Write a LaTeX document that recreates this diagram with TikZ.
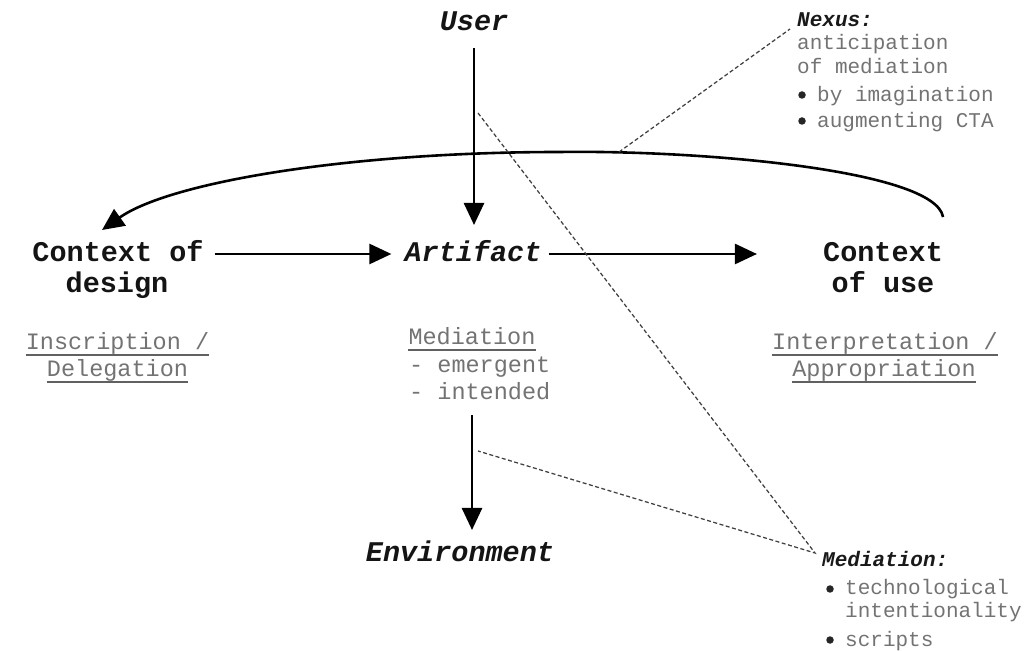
\documentclass[tikz,border=0pt]{standalone}
\usepackage{fontspec}
\setmonofont{Liberation Mono}
\usetikzlibrary{arrows.meta,calc}

\begin{document}
\begin{tikzpicture}[x=1pt,y=1pt,
  title/.style={font=\ttfamily\bfseries\fontsize{28.5}{30}\selectfont, text=black!92, inner sep=0pt, anchor=base},
  ititle/.style={title, font=\ttfamily\bfseries\itshape\fontsize{28.5}{30}\selectfont},
  sub/.style={font=\ttfamily\fontsize{23.5}{25}\selectfont, text=black!55, inner sep=0pt, anchor=base},
  note/.style={font=\ttfamily\fontsize{21}{23}\selectfont, text=black!55, inner sep=0pt, anchor=base west},
  notehead/.style={note, font=\ttfamily\bfseries\itshape\fontsize{21}{23}\selectfont, text=black!90},
  bullet/.style={circle, fill=black!85, inner sep=0pt, minimum size=7.5pt},
  uline/.style={draw=black!62, line width=1.8pt},
  flow/.style={line width=2.6pt, -{Triangle[length=22pt,width=20pt]}},
  hint/.style={draw=black!75, line width=1.25pt, dash pattern=on 4pt off 2.5pt}]

\useasboundingbox (0,0) rectangle (1035,650);

% main actors
\node[ititle] (user) at (474,619) {User};
\node[ititle] (artifact) at (473,388) {Artifact};
\node[title] (design1) at (118,388) {Context of};
\node[title] (design2) at (117,357) {design};
\node[title] (use1) at (883,388) {Context};
\node[title] (use2) at (883,357) {of use};
\node[ititle] (env) at (460,88) {Environment};

% underlined captions
\node[sub] (insc1) at (117.5,300) {Inscription /};
\node[sub] (insc2) at (117.5,273) {Delegation};
\node[sub] (interp1) at (885,300) {Interpretation /};
\node[sub] (interp2) at (884,273) {Appropriation};
\node[sub] (med) at (472,305) {Mediation};
\node[sub, anchor=base west] (emerg) at (409,277) {- emergent};
\node[sub, anchor=base west] (intend) at (409,250) {- intended};
\foreach \n in {insc1,insc2,interp1,interp2,med}
  \draw[uline] ($(\n.base west)+(0,-5)$) -- ($(\n.base east)+(0,-5)$);

% nexus note
\node[notehead] (nexus) at (797,623) {Nexus:};
\node[note] (nx1) at (797,600) {anticipation};
\node[note] (nx2) at (797,576) {of mediation};
\node[bullet] (nb1) at (802,555) {};
\node[note] (nx3) at (817,548) {by imagination};
\node[bullet] (nb2) at (802,529) {};
\node[note] (nx4) at (817,522) {augmenting CTA};

% mediation note
\node[notehead] (medhead) at (822,83) {Mediation:};
\node[bullet] (mb1) at (830,61) {};
\node[note] (m1) at (845,55) {technological};
\node[note] (m2) at (845,32) {intentionality};
\node[bullet] (mb2) at (830,10) {};
\node[note] (m3) at (845,4) {scripts};

% flows
\draw[flow] ($(user.base)+(0,-17)$) -- ($(user.base |- artifact.base)+(0,37)$);
\draw[flow] ($(design1.base east)+(11,8)$) -- ($(artifact.base west)+(-13,8)$);
\draw[flow] ($(artifact.base east)+(7,8)$) -- ($(use1.base west)+(-66,8)$);
\draw[flow] ($(med.base)+(0,-70)$) -- ($(env.base)+(12,32)$);
\draw[flow] ($(use1.base east)+(0,45)$)
  .. controls (935,480) and (700,500) .. (560,498)
  .. controls (350,498) and (170,468) .. ($(design1.base)+(-16,32)$);

% dashed pointers to the notes
\coordinate (arcpt) at (619,498);
\coordinate (nexustip) at (790,621);
\coordinate (userpt) at (478,537);
\coordinate (envpt) at (478,199);
\coordinate (medtip) at (815,97);
\draw[hint] (arcpt) -- (nexustip);
\draw[hint] (userpt) -- (medtip) -- (envpt);
\end{tikzpicture}
\end{document}
